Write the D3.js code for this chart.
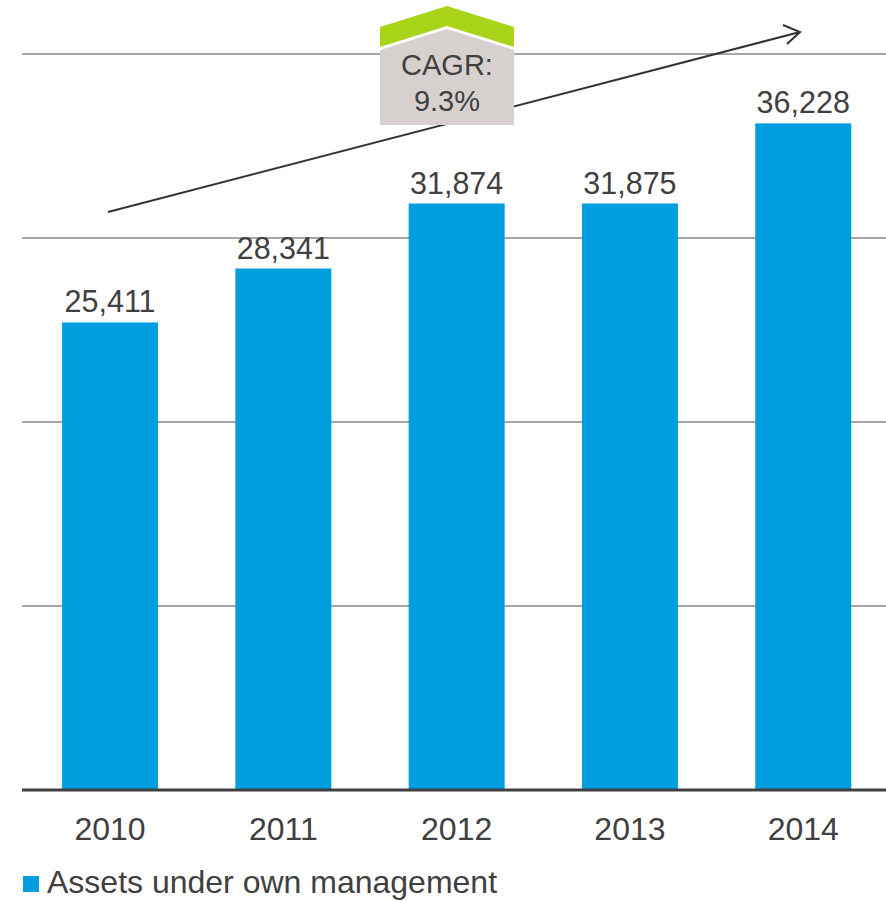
<!DOCTYPE html>
<html>
<head>
<meta charset="utf-8">
<script src="https://cdn.jsdelivr.net/npm/d3@7"></script>
<style>
  html, body { margin: 0; padding: 0; background: #fff; }
  svg { display: block; font-family: "Liberation Sans", Arial, sans-serif; }
</style>
</head>
<body>
<svg id="chart" width="886" height="901"></svg>
<script>
// Assets under own management by year
const years = ["2010", "2011", "2012", "2013", "2014"];
const assets = [25411, 28341, 31874, 31875, 36228];
const gridValues = [10000, 20000, 30000, 40000];
const legendLabel = "Assets under own management";
const cagrLines = ["CAGR:", "9.3%"];

const svg = d3.select("#chart");
const barColor = "#009ddf";
const textColor = "#404040";

const x = d3.scaleBand().domain(years).range([23.4, 889.9])
  .paddingInner(0.446).paddingOuter(0.223);
const y = d3.scaleLinear().domain([0, 40000]).range([790, 54]);

// horizontal gridlines
svg.append("g").selectAll("line").data(gridValues).join("line")
  .attr("x1", 22).attr("x2", 886)
  .attr("y1", d => y(d)).attr("y2", d => y(d))
  .attr("stroke", "#a6a6a6").attr("stroke-width", 2);

// bars
const data = years.map((yr, i) => ({ year: yr, value: assets[i] }));
svg.append("g").selectAll("rect").data(data).join("rect")
  .attr("x", d => x(d.year)).attr("width", x.bandwidth())
  .attr("y", d => y(d.value)).attr("height", d => y(0) - y(d.value))
  .attr("fill", barColor);

// value labels
svg.append("g").selectAll("text").data(data).join("text")
  .attr("x", d => x(d.year) + x.bandwidth() / 2)
  .attr("y", d => y(d.value) - 10)
  .attr("text-anchor", "middle")
  .attr("font-size", 30.5).attr("fill", textColor)
  .text(d => d3.format(",")(d.value));

// baseline axis
const xAxis = svg.append("g").attr("transform", `translate(0,${y(0)})`)
  .call(d3.axisBottom(x).tickSize(0).tickPadding(27));
xAxis.select(".domain").remove();
xAxis.append("line").attr("x1", 22).attr("x2", 886)
  .attr("stroke", "#404040").attr("stroke-width", 3);
xAxis.selectAll(".tick text")
  .attr("font-size", 32).attr("fill", textColor)
  .attr("font-family", "'Liberation Sans', Arial, sans-serif");

// growth arrow
const arrow = svg.append("g").attr("stroke", "#333").attr("stroke-width", 2)
  .attr("fill", "none");
arrow.append("line").attr("x1", 108).attr("y1", 212).attr("x2", 800).attr("y2", 32);
arrow.append("polyline").attr("points", "783,25 800,32 787,44");

// CAGR badge
const badge = svg.append("g");
badge.append("path")
  .attr("d", "M380,27 L447,6 L514,27 L514,47 L447,26 L380,47 Z")
  .attr("fill", "#a8d419");
badge.append("path")
  .attr("d", "M380,50 L447,29 L514,50 L514,125 L380,125 Z")
  .attr("fill", "#d6d1ce");
badge.selectAll("text").data(cagrLines).join("text")
  .attr("x", 447).attr("y", (d, i) => 75 + i * 36)
  .attr("text-anchor", "middle")
  .attr("font-size", 29).attr("fill", textColor)
  .text(d => d);

// legend
const legend = svg.append("g");
legend.append("rect").attr("x", 23).attr("y", 876).attr("width", 16).attr("height", 16)
  .attr("fill", barColor);
legend.append("text").attr("x", 47).attr("y", 893)
  .attr("font-size", 32).attr("fill", textColor)
  .text(legendLabel);
</script>
</body>
</html>
